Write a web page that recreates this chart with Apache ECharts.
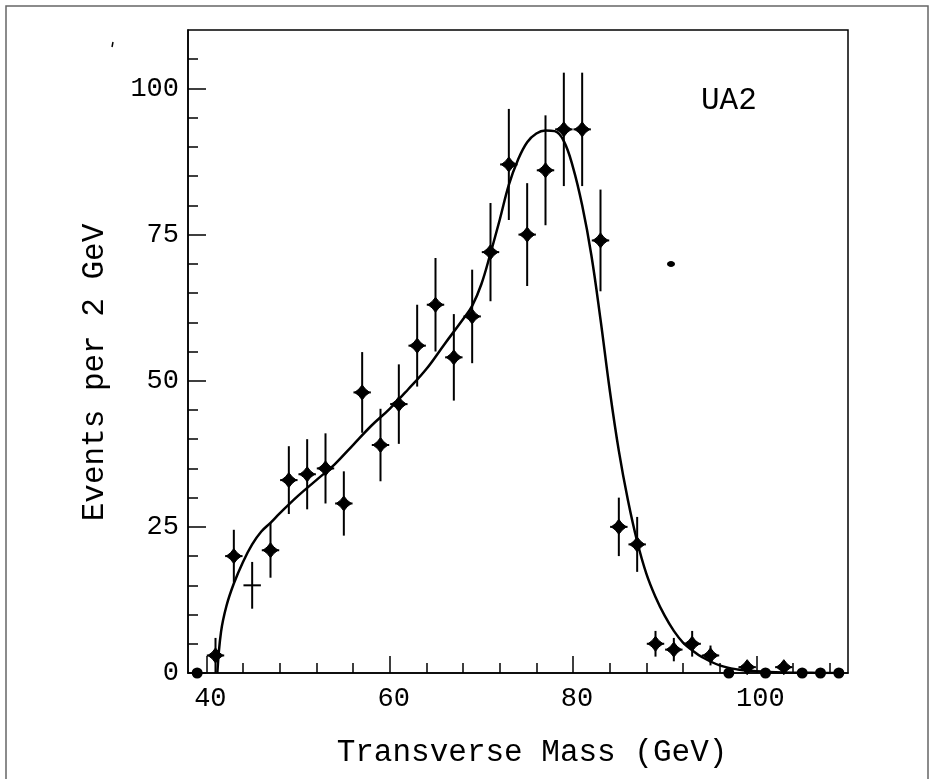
<!DOCTYPE html>
<html>
<head>
<meta charset="utf-8">
<script src="https://cdn.jsdelivr.net/npm/echarts@6/dist/echarts.min.js"></script>
<style>
html,body{margin:0;padding:0;background:#fff;}
#chart{width:932px;height:779px;}
</style>
</head>
<body>
<div id="chart"></div>
<script>
// ---- data ----
const massBins = [39,41,43,45,47,49,51,53,55,57,59,61,63,65,67,69,71,73,75,77,79,81,83,85,87,89,91,93,95,97,99,101,103,105,107,109];
const events   = [0, 3,20,15,21,33,34,35,29,48,39,46,56,63,54,61,72,87,75,86,93,93,74,25,22, 5, 4, 5, 3, 0, 1, 0, 1, 0, 0, 0];
const errors   = [0, 3,4.5,4,4.7,5.8,6,6,5.5,6.9,6.2,6.8,7,8,7.4,8,8.4,9.5,8.8,9.4,9.7,9.7,8.7,5,4.7,2.2,2,2.2,1.7,0,1,0,1,0,0,0];
// marker kind: c = circle (empty bin), d = diamond, x = plain cross
const markerKinds = ['c','d','d','x','d','d','d','d','d','d','d','d','d','d','d','d','d','d','d','d','d','d','d','d','d','d','d','d','d','c','d','c','d','c','c','c'];

const fitMass   = [41.2,41.6,42.2,43,44,45,46,47,48,50,52,54,56,58,60,62,64,66,68,69,70,71,72,73,74,75,76,77,78,79,80,81,82,83,84,85,86,87,88,89,90,91,92,93,94,96,98,100,103,106,109];
const fitEvents = [0,7,11.5,15.3,19,22,24.2,25.7,27.3,30.3,33,35.7,39,42.3,45.2,48.5,52,56.3,60.5,62.8,66.5,71.8,77.5,83.5,87.8,90.8,92.3,92.8,92.7,91,86.5,80,71.5,60.5,48.5,38,29.5,22.5,17,13,9.8,7.2,5.2,3.9,2.8,1.3,0.6,0.3,0.1,0.03,0];

const xMajorTicks = [40,60,80,100];
const xMinorTicks = [44,48,52,56,64,68,72,76,84,88,92,96,104,108];
const yMajorTicks = [0,25,50,75,100];
const yMinorTicks = [5,10,15,20,30,35,40,45,55,60,65,70,80,85,90,95,105];

const kindIndex = {c:0, d:1, x:2};
const pointData = massBins.map((m,i)=>[m, events[i], errors[i], kindIndex[markerKinds[i]]]);
const fitData = fitMass.map((m,i)=>[m, fitEvents[i]]);

const FONT = 'Liberation Mono';
const chart = echarts.init(document.getElementById('chart'), null, {renderer:'canvas'});

function renderPoint(params, api){
  const x = api.value(0), y = api.value(1), e = api.value(2), k = api.value(3);
  const c = api.coord([x, y]);
  const children = [];
  const st = {stroke:'#000', lineWidth:2, fill:null};
  if (e > 0){
    const t = api.coord([x, y + e]);
    const b = api.coord([x, Math.max(0, y - e)]);
    children.push({type:'line', shape:{x1:c[0], y1:t[1], x2:c[0], y2:b[1]}, style:st});
  }
  if (k === 1 || k === 2){
    const l = api.coord([x - 0.95, y]);
    const r = api.coord([x + 0.95, y]);
    children.push({type:'line', shape:{x1:l[0], y1:c[1], x2:r[0], y2:c[1]}, style:st});
  }
  if (k === 1){
    const cx=c[0], cy=c[1], m=3.3;
    children.push({type:'polygon', shape:{points:[
      [cx, cy-7.5],[cx+m, cy-m],[cx+7.5, cy],[cx+m, cy+m],
      [cx, cy+7.5],[cx-m, cy+m],[cx-7.5, cy],[cx-m, cy-m]
    ]}, style:{fill:'#000', stroke:'#000', lineWidth:1}});
  }
  if (k === 0){
    children.push({type:'circle', shape:{cx:c[0], cy:c[1], r:5.5}, style:{fill:'#000'}});
  }
  return {type:'group', children};
}

const axisLineStyle = {color:'#000', width:1.5};

const option = {
  backgroundColor:'#fff',
  animation:false,
  grid:{left:188, right:84, top:30, bottom:106, show:true, borderColor:'#000', borderWidth:1.5, backgroundColor:'transparent'},
  title:{text:'UA2', left:696, top:80, textStyle:{fontFamily:FONT, fontSize:31, fontWeight:'normal', color:'#000'}},
  xAxis:[
    {type:'value', min:38, max:110, position:'bottom',
     name:'Transverse Mass (GeV)', nameLocation:'middle', nameGap:64,
     nameTextStyle:{fontFamily:FONT, fontSize:31, color:'#000', padding:[0,0,0,28]},
     axisLine:{lineStyle:axisLineStyle},
     axisTick:{inside:true, length:17, customValues:xMajorTicks, lineStyle:{color:'#000', width:1.5}},
     axisLabel:{customValues:xMajorTicks, margin:12, fontFamily:FONT, fontSize:27, color:'#000', padding:[0,0,0,8]},
     splitLine:{show:false}},
    {type:'value', min:38, max:110, position:'bottom', offset:0,
     axisLine:{show:false},
     axisTick:{inside:true, length:10, customValues:xMinorTicks, lineStyle:{color:'#000', width:1.5}},
     axisLabel:{show:false}, splitLine:{show:false}}
  ],
  yAxis:[
    {type:'value', min:0, max:110, position:'left',
     name:'Events per 2 GeV', nameLocation:'middle', nameGap:78, nameRotate:90,
     nameTextStyle:{fontFamily:FONT, fontSize:31, color:'#000', padding:[0,42,0,0]},
     axisLine:{lineStyle:axisLineStyle},
     axisTick:{inside:true, length:18, customValues:yMajorTicks, lineStyle:{color:'#000', width:1.5}},
     axisLabel:{customValues:yMajorTicks, margin:9, fontFamily:FONT, fontSize:27, color:'#000'},
     splitLine:{show:false}},
    {type:'value', min:0, max:110, position:'left', offset:0,
     axisLine:{show:false},
     axisTick:{inside:true, length:10, customValues:yMinorTicks, lineStyle:{color:'#000', width:1.5}},
     axisLabel:{show:false}, splitLine:{show:false}}
  ],
  graphic:[
    {type:'rect', shape:{x:6, y:6, width:922, height:800}, style:{fill:null, stroke:'#666', lineWidth:1.5}, z:-1},
    {type:'ellipse', shape:{cx:671, cy:264, rx:4, ry:3}, style:{fill:'#000'}},
    {type:'line', shape:{x1:113, y1:42, x2:112, y2:47}, style:{stroke:'#000', lineWidth:1.5}}
  ],
  series:[
    {type:'line', data:fitData, xAxisIndex:0, yAxisIndex:0, showSymbol:false, smooth:0.4,
     lineStyle:{color:'#000', width:2.5}, z:3, silent:true},
    {type:'custom', data:pointData, xAxisIndex:0, yAxisIndex:0, renderItem:renderPoint, z:4, clip:false,
     encode:{x:0, y:1}}
  ]
};
chart.setOption(option);
</script>
</body>
</html>
